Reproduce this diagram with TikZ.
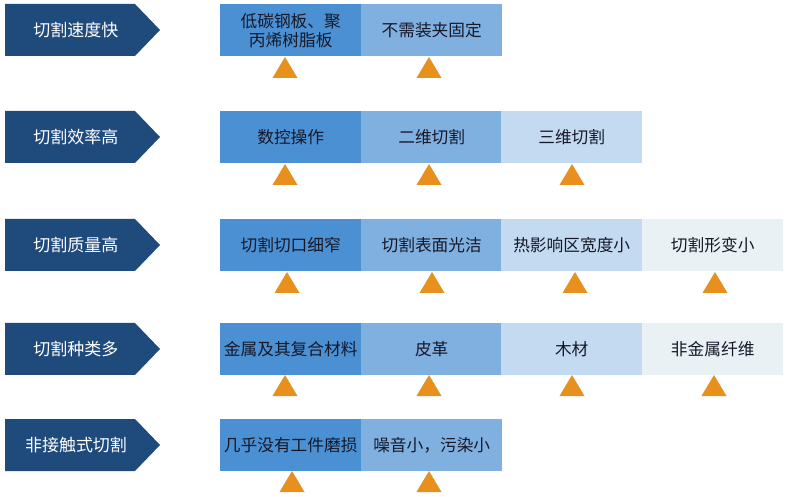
\documentclass[tikz,border=0pt]{standalone}
\usepackage{fontspec}
\setmainfont{Noto Sans CJK SC}
\begin{document}
\begin{tikzpicture}[x=1pt,y=-1pt,
  navy/.style={fill={rgb,255:red,31;green,74;blue,124}},
  headtxt/.style={text=white,font=\fontsize{17}{19}\selectfont,inner sep=0pt},
  cell/.style={minimum width=141pt,minimum height=52pt,inner sep=0pt,anchor=north west,
     text={rgb,255:red,22;green,24;blue,40},font=\fontsize{16.7}{19}\selectfont,align=center},
  c1/.style={cell,fill={rgb,255:red,74;green,144;blue,210}},
  c2/.style={cell,fill={rgb,255:red,128;green,176;blue,224}},
  c3/.style={cell,fill={rgb,255:red,195;green,218;blue,240}},
  c4/.style={cell,fill={rgb,255:red,234;green,241;blue,244}},
  tri/.style={fill={rgb,255:red,232;green,144;blue,30}}]
\useasboundingbox (0,0) rectangle (788,497);
\fill[white] (0,0) rectangle (788,497);
% chevrons
\foreach \y/\t/\n in {4/切割速度快/h1,111/切割效率高/h2,219/切割质量高/h3,323/切割种类多/h4,419/非接触式切割/h5}{
  \fill[navy] (5,\y) -- (135,\y) -- (160,\y+26) -- (135,\y+52) -- (5,\y+52) -- cycle;
  \node[headtxt] (\n) at (76,\y+26) {\t};
}
% row 1
\node[c1] (r1a) at (220,4) {低碳钢板、聚\\丙烯树脂板};
\node[c2] (r1b) at (361,4) {不需装夹固定};
% row 2
\node[c1] (r2a) at (220,111) {数控操作};
\node[c2] (r2b) at (361,111) {二维切割};
\node[c3] (r2c) at (501,111) {三维切割};
% row 3
\node[c1] (r3a) at (220,219) {切割切口细窄};
\node[c2] (r3b) at (361,219) {切割表面光洁};
\node[c3] (r3c) at (501,219) {热影响区宽度小};
\node[c4] (r3d) at (642,219) {切割形变小};
% row 4
\node[c1] (r4a) at (220,323) {金属及其复合材料};
\node[c2] (r4b) at (361,323) {皮革};
\node[c3] (r4c) at (501,323) {木材};
\node[c4] (r4d) at (642,323) {非金属纤维};
% row 5
\node[c1] (r5a) at (220,419) {几乎没有工件磨损};
\node[c2] (r5b) at (361,419) {噪音小，污染小};
% triangles
\foreach \x/\y in {285/57,429/57,
                   285/164,429/164,572/164,
                   287/272,432/272,575/272,715/272,
                   285/375,429/375,572/375,714/375,
                   292/471,429/471}{
  \fill[tri] (\x-12.5,\y+21) -- (\x+12.5,\y+21) -- (\x,\y) -- cycle;
}
\end{tikzpicture}
\end{document}
